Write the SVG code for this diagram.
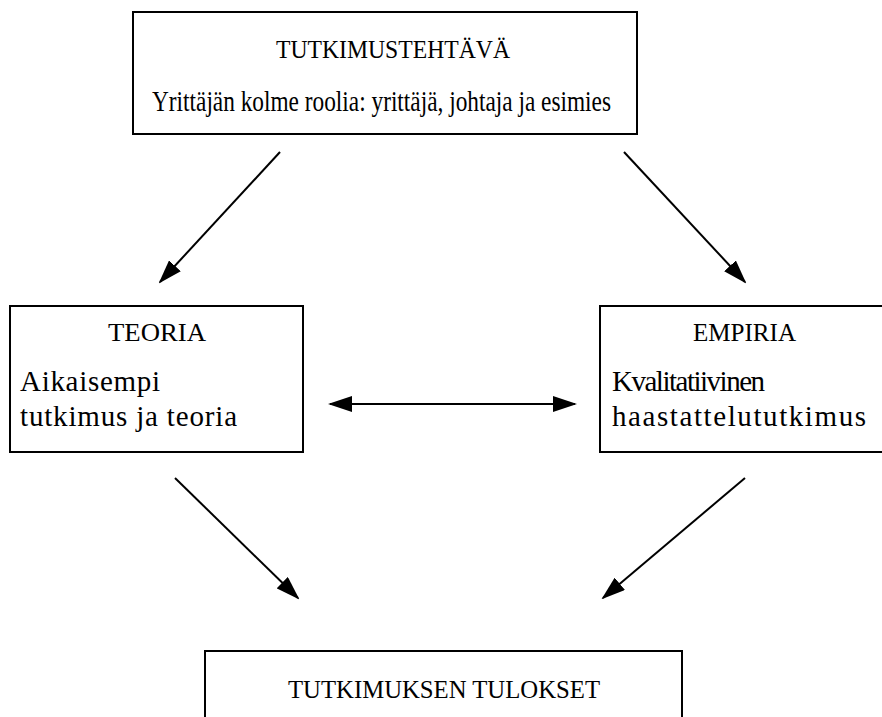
<svg xmlns="http://www.w3.org/2000/svg" width="882" height="717" viewBox="0 0 882 717">
<defs>
<style>
.box{fill:#fff;stroke:#000;stroke-width:2}
text{font-family:'Liberation Serif','Times New Roman',serif;fill:#000}
.h{font-size:25px}
.b{font-size:29px}
.c{stroke:#000;stroke-width:2;fill:none}
</style>
<marker id="as" markerWidth="24" markerHeight="16" refX="22" refY="8" orient="auto-start-reverse" markerUnits="userSpaceOnUse" viewBox="0 0 24 16">
<path d="M0,0 L24,8 L0,16 Z" fill="#000"/>
</marker>
</defs>
<rect width="882" height="717" fill="#fff"/>
<g id="tehtava">
<rect class="box" x="133" y="12" width="504" height="122"/>
<text class="h" x="276" y="58" textLength="234" lengthAdjust="spacingAndGlyphs">TUTKIMUSTEHTÄVÄ</text>
<text class="b" x="152" y="111" textLength="459" lengthAdjust="spacingAndGlyphs">Yrittäjän kolme roolia: yrittäjä, johtaja ja esimies</text>
</g>
<g id="teoria">
<rect class="box" x="10" y="306" width="293" height="146"/>
<text class="h" x="108" y="341" textLength="98" lengthAdjust="spacingAndGlyphs">TEORIA</text>
<text class="b" x="20" y="391" textLength="140" lengthAdjust="spacing">Aikaisempi</text>
<text class="b" x="20" y="426" textLength="217" lengthAdjust="spacing">tutkimus ja teoria</text>
</g>
<g id="empiria">
<rect class="box" x="600" y="306" width="290" height="146"/>
<text class="h" x="693" y="341" textLength="103" lengthAdjust="spacingAndGlyphs">EMPIRIA</text>
<text class="b" x="612" y="391" textLength="153" lengthAdjust="spacing">Kvalitatiivinen</text>
<text class="b" x="612" y="426" textLength="254" lengthAdjust="spacing">haastattelututkimus</text>
</g>
<g id="tulokset">
<rect class="box" x="205" y="651" width="477" height="80"/>
<text class="h" x="288" y="698" textLength="312" lengthAdjust="spacingAndGlyphs">TUTKIMUKSEN TULOKSET</text>
</g>
<g id="connectors">
<line class="c" x1="280" y1="152" x2="160" y2="282" marker-end="url(#as)"/>
<line class="c" x1="624" y1="152" x2="745" y2="282" marker-end="url(#as)"/>
<line class="c" x1="330" y1="404" x2="575" y2="404" marker-start="url(#as)" marker-end="url(#as)"/>
<line class="c" x1="175" y1="478" x2="298" y2="598" marker-end="url(#as)"/>
<line class="c" x1="745" y1="478" x2="603" y2="598" marker-end="url(#as)"/>
</g>
</svg>
